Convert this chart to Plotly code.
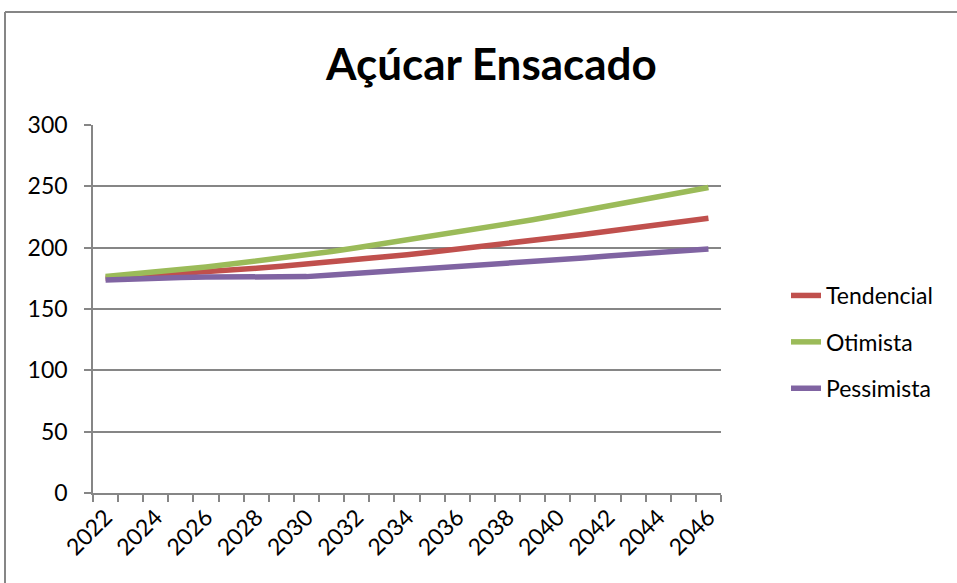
import plotly.graph_objects as go

years = list(range(2022, 2047))
tendencial = [175.0, 176.2, 177.4, 178.7, 180.1, 181.6, 183.2, 184.8, 186.5, 188.4,
              190.3, 192.3, 194.3, 196.5, 198.7, 201.0, 203.4, 205.8, 208.2, 210.8,
              213.4, 216.0, 218.6, 221.3, 224.0]
otimista = [176.5, 178.3, 180.2, 182.2, 184.3, 186.6, 188.9, 191.4, 194.0, 196.9,
            199.9, 203.0, 206.2, 209.4, 212.6, 215.8, 219.1, 222.7, 226.4, 230.2,
            234.0, 237.7, 241.4, 245.2, 249.0]
pessimista = [173.6, 174.5, 175.2, 175.7, 176.0, 176.1, 176.2, 176.3, 176.4, 177.7,
              179.0, 180.3, 181.5, 182.8, 184.0, 185.3, 186.6, 188.2, 189.9, 191.6,
              193.3, 194.7, 196.1, 197.5, 198.9]
series_names = ["Tendencial", "Otimista", "Pessimista"]
series_colors = ["#C0504D", "#9BBB59", "#8064A2"]
title_text = "Açúcar Ensacado"

W, H = 957, 583
ML, MR, MT, MB = 93, 236, 125, 90
PW, PH = W - ML - MR, H - MT - MB

def px_x(p):
    return (p - ML) / PW

def px_y(p):
    return (H - MB - p) / PH

FONT = "Lato"
GRAY = "#868686"

fig = go.Figure()
for i, (name, vals) in enumerate(zip(series_names, [tendencial, otimista, pessimista])):
    fig.add_trace(go.Scatter(
        x=years, y=vals, name=name, mode="lines",
        line=dict(color=series_colors[i], width=5.5),
        legendgroup=name,
    ))

fig.update_layout(
    width=W, height=H,
    margin=dict(l=ML, r=MR, t=MT, b=MB),
    paper_bgcolor="white", plot_bgcolor="white",
    font=dict(family=FONT, size=23, color="black"),
    showlegend=True,
    legend=dict(
        x=px_x(786), y=px_y(274), xanchor="left", yanchor="top",
        font=dict(family=FONT, size=23, color="black"),
        tracegroupgap=13.5, traceorder="grouped",
        bgcolor="rgba(0,0,0,0)", borderwidth=0,
    ),
    xaxis=dict(
        range=[2021.5, 2046.5],
        tickmode="linear", tick0=2022, dtick=2,
        tickangle=-45,
        ticks="", showgrid=False, zeroline=False,
        showline=True, linecolor=GRAY, linewidth=1.5,
        tickfont=dict(family=FONT, size=23, color="black"),
        minor=dict(tickmode="linear", tick0=2021.5, dtick=1, ticks="outside",
                   ticklen=7, tickcolor=GRAY, tickwidth=1.5, showgrid=False),
    ),
    yaxis=dict(
        range=[0, 300], tickmode="linear", tick0=0, dtick=50,
        ticks="outside", ticklen=7, tickcolor=GRAY, tickwidth=1.5,
        showgrid=True, gridcolor=GRAY, gridwidth=1.5,
        zeroline=False, showline=True, linecolor=GRAY, linewidth=1.5,
        tickfont=dict(family=FONT, size=23, color="black"),
        ticklabelstandoff=12,
    ),
    shapes=[
        dict(type="line", xref="paper", yref="paper",
             x0=px_x(5), x1=px_x(5), y0=px_y(12), y1=px_y(600),
             line=dict(color=GRAY, width=2)),
        dict(type="line", xref="paper", yref="paper",
             x0=px_x(5), x1=px_x(980), y0=px_y(12), y1=px_y(12),
             line=dict(color=GRAY, width=2)),
    ],
    annotations=[
        dict(text="<b>" + title_text + "</b>", xref="paper", yref="paper",
             x=px_x(491), y=px_y(63), xanchor="center", yanchor="middle",
             showarrow=False, font=dict(family=FONT, size=44, color="black")),
    ],
)

fig.write_html("out.html")
